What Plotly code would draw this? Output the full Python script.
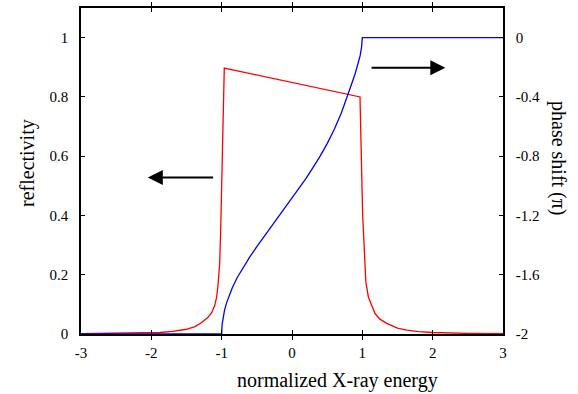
import plotly.graph_objects as go

# ---- data ----
refl_x = [-3.0, -2.5, -2.0, -1.88, -1.7, -1.5, -1.38, -1.3, -1.2, -1.142, -1.1, -1.071,
          -1.05, -1.029, -1.014, -0.996, -0.977, -0.963,
          0.967, 0.98, 0.991, 1.005, 1.015, 1.029, 1.05, 1.086, 1.18, 1.25, 1.347, 1.5,
          1.63, 1.8, 2.0, 2.5, 3.0]
refl_y = [0.001, 0.002, 0.004, 0.005, 0.009, 0.016, 0.025, 0.036, 0.055, 0.072, 0.095, 0.125,
          0.17, 0.237, 0.349, 0.539, 0.763, 0.897,
          0.800, 0.70, 0.539, 0.40, 0.349, 0.237, 0.175, 0.125, 0.069, 0.05, 0.036, 0.02,
          0.013, 0.008, 0.005, 0.002, 0.001]

phase_x = [-3.0, -1.0, -0.995, -0.98, -0.96, -0.93, -0.9, -0.85, -0.78, -0.7, -0.6, -0.5,
           -0.4, -0.3, -0.2, -0.1, 0.0, 0.1, 0.2, 0.3, 0.4, 0.5, 0.6, 0.7, 0.78, 0.85,
           0.9, 0.94, 0.97, 0.99, 1.0, 3.0]
phase_y = [-2.0, -2.0, -1.94, -1.89, -1.84, -1.79, -1.75, -1.69, -1.62, -1.555, -1.48, -1.41,
           -1.345, -1.28, -1.215, -1.15, -1.085, -1.02, -0.95, -0.875, -0.80, -0.715, -0.62,
           -0.51, -0.41, -0.31, -0.24, -0.18, -0.12, -0.06, 0.0, 0.0]

x_ticks = [-3, -2, -1, 0, 1, 2, 3]
x_ticktext = ["-3", "-2", "-1", "0", "1", "2", "3"]
y_ticks = [0, 0.2, 0.4, 0.6, 0.8, 1.0]
y_ticktext = ["0", "0.2", "0.4", "0.6", "0.8", "1"]
y2_ticks = [-2, -1.6, -1.2, -0.8, -0.4, 0]
y2_ticktext = ["-2", "-1.6", "-1.2", "-0.8", "-0.4", "0"]

# arrows: (tail_x, tip_x, y) in data units of x / left y axis
arrow_left = (-1.1, -2.05, 0.528)
arrow_right = (1.11, 2.18, 0.898)

FONT = "Liberation Serif"

fig = go.Figure()
fig.add_trace(go.Scatter(x=refl_x, y=refl_y, mode="lines",
                         line=dict(color="#ff0000", width=1.3), yaxis="y"))
fig.add_trace(go.Scatter(x=phase_x, y=phase_y, mode="lines",
                         line=dict(color="#0000ff", width=1.3), yaxis="y2"))

axis_common = dict(showgrid=False, zeroline=False, showline=True, linecolor="black",
                   linewidth=1.5, ticks="inside", ticklen=4, tickcolor="black",
                   tickfont=dict(family=FONT, size=15, color="black"))

fig.update_layout(
    width=578, height=394,
    margin=dict(l=81, r=75, t=6, b=60),
    paper_bgcolor="white", plot_bgcolor="white",
    showlegend=False,
    xaxis=dict(range=[-3, 3], tickvals=x_ticks, ticktext=x_ticktext, mirror="allticks",
               ticklabelstandoff=4, **axis_common),
    yaxis=dict(range=[0, 1.1], tickvals=y_ticks, ticktext=y_ticktext, mirror=True,
               ticklabelstandoff=8, **axis_common),
    yaxis2=dict(range=[-2, 0.2], tickvals=y2_ticks, ticktext=y2_ticktext, overlaying="y",
                side="right", ticklabelstandoff=8, **axis_common),
)

for tail_x, tip_x, yv in (arrow_left, arrow_right):
    fig.add_annotation(x=tip_x, y=yv, ax=tail_x, ay=yv, xref="x", yref="y",
                       axref="x", ayref="y", text="", showarrow=True,
                       arrowhead=2, arrowsize=1.5, arrowwidth=2, arrowcolor="black",
                       standoff=0, startstandoff=0)

title_font = dict(family=FONT, size=20, color="black")
fig.add_annotation(text="normalized X-ray energy", xref="paper", yref="paper",
                   x=(337 - 81) / 422, y=0, yshift=-46, xanchor="center", yanchor="middle",
                   showarrow=False, font=title_font)
fig.add_annotation(text="reflectivity", xref="paper", yref="paper",
                   x=0, xshift=-54, y=0.5, yshift=8, textangle=-90,
                   xanchor="center", yanchor="middle", showarrow=False, font=title_font)
fig.add_annotation(text="phase shift (π)", xref="paper", yref="paper",
                   x=1, xshift=56, y=0.5, yshift=13, textangle=90,
                   xanchor="center", yanchor="middle", showarrow=False, font=title_font)

fig.write_html("out.html", config={"displayModeBar": False},
               post_script="document.body.style.margin='0';document.body.style.overflow='hidden';")
